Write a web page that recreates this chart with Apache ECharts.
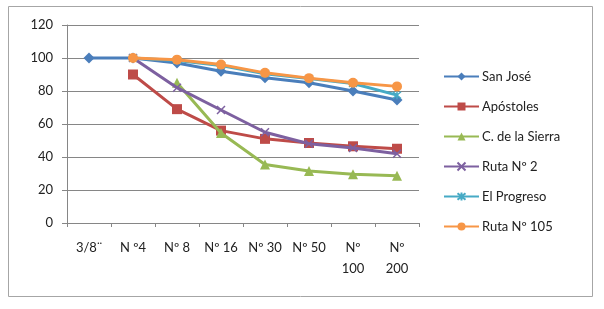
<!DOCTYPE html>
<html><head><meta charset="utf-8">
<script src="https://cdn.jsdelivr.net/npm/echarts@6/dist/echarts.min.js"></script>
<style>html,body{margin:0;padding:0;background:#fff}#c{width:604px;height:309px}</style>
</head><body><div id="c"></div>
<script>
const categories = ['3/8¨', 'N º4', 'Nº 8', 'Nº 16', 'Nº 30', 'Nº 50', 'Nº\n100', 'Nº\n200'];
const yTicks = [0, 20, 40, 60, 80, 100, 120];
const sanJose     = [100, 100, 97, 92, 88, 85, 80, 74.5];
const apostoles   = [null, 90, 69, 56, 51, 48.5, 46.5, 45];
const cSierra     = [null, null, 85, 54.5, 35.5, 31.5, 29.5, 28.7];
const ruta2       = [null, 100, 82, 68.5, 55, 48, 45.5, 42];
const elProgreso  = [null, 100, 98.5, 95.5, 90.5, 87.5, 84.5, 77.5];
const ruta105     = [null, 100, 99, 96, 91, 87.8, 85, 82.8];
const seriesNames = ['San José', 'Apóstoles', 'C. de la Sierra', 'Ruta Nº 2', 'El Progreso', 'Ruta Nº 105'];

const colors = ['#4A7EBB', '#BE4B48', '#98B954', '#7D60A0', '#46AAC5', '#F79646'];
const xPath = 'path://M0,0L10,10M10,0L0,10';
const starPath = 'path://M0,0L10,10M10,0L0,10M5,-1L5,11';
const specs = [
  {data: sanJose, symbol: 'diamond', size: 11},
  {data: apostoles, symbol: 'rect', size: 10},
  {data: cSierra, symbol: 'triangle', size: 10},
  {data: ruta2, symbol: xPath, size: 8},
  {data: elProgreso, symbol: starPath, size: 8},
  {data: ruta105, symbol: 'circle', size: 10}
];
const chart = echarts.init(document.getElementById('c'));
chart.setOption({
  animation: false,
  textStyle: {fontFamily: 'Lato, sans-serif'},
  graphic: [{type: 'rect', shape: {x: 8.5, y: 6.5, width: 584, height: 290}, style: {fill: 'none', stroke: '#a6a6a6', lineWidth: 1}, z: -1}],
  grid: {left: 67, right: 185, top: 25, bottom: 86},
  legend: {
    orient: 'vertical', left: 438, top: 65, itemGap: 17, itemWidth: 35, itemHeight: 10,
    textStyle: {fontSize: 13, color: '#222', fontFamily: 'Lato, sans-serif', padding: [0, 0, 0, -2]},
    data: seriesNames
  },
  xAxis: {
    type: 'category', data: categories, boundaryGap: true,
    axisLine: {lineStyle: {color: '#868686', width: 1}},
    axisTick: {show: true, length: 4, lineStyle: {color: '#868686'}},
    axisLabel: {fontSize: 13, color: '#222', margin: 14, lineHeight: 21, interval: 0}
  },
  yAxis: {
    type: 'value', min: 0, max: 120, interval: 20,
    axisLine: {show: true, lineStyle: {color: '#868686'}},
    axisTick: {show: true, length: 5, lineStyle: {color: '#868686'}},
    axisLabel: {fontSize: 13, color: '#222', margin: 14, formatter: v => yTicks.includes(v) ? String(v) : ''},
    splitLine: {lineStyle: {color: '#868686', width: 1}}
  },
  series: specs.map((s, i) => ({
    name: seriesNames[i], type: 'line', data: s.data,
    symbol: s.symbol, symbolSize: s.size, showSymbol: true,
    lineStyle: {color: colors[i], width: 3},
    itemStyle: {color: colors[i], borderColor: colors[i], borderWidth: (i === 3 || i === 4) ? 1.5 : 0},
    z: 2 + i
  }))
});
</script></body></html>
